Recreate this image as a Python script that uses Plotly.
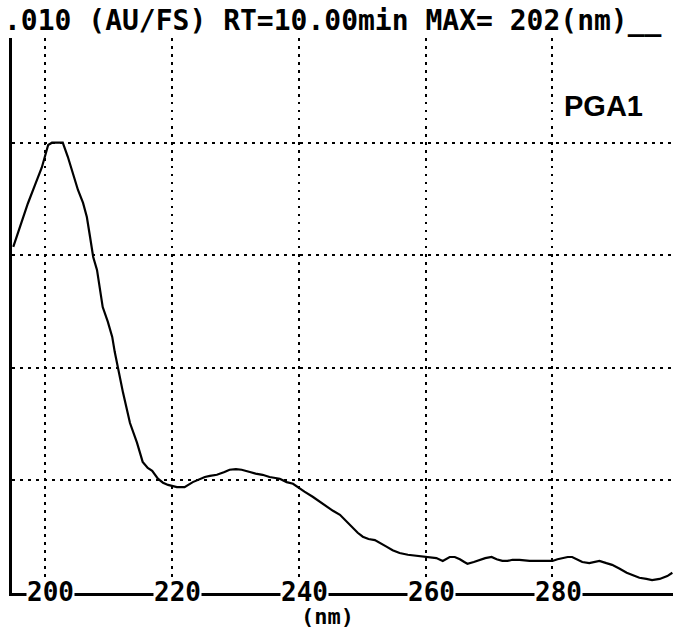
import plotly.graph_objects as go

# Wavelength (nm) and absorbance (AU)
wavelength = [195.0, 196.1, 197.3, 198.4, 199.5, 200.2, 200.5, 201.1, 202.0, 202.8,
              203.6, 204.4, 205.2, 206.0, 206.6, 207.1, 207.6, 208.2, 208.7, 209.1,
              209.9, 210.6, 211.0, 211.5, 212.3, 213.4, 214.5, 215.4, 216.2, 216.9,
              217.8, 218.6, 219.4, 220.8, 222.0, 223.3, 224.4, 225.2, 226.0, 227.1,
              228.3, 229.1, 230.1, 231.0, 232.3, 233.2, 234.3, 235.4, 237.0, 238.1,
              239.1, 239.8, 240.9, 242.2, 243.3, 244.4, 245.4, 246.5, 247.6, 248.5,
              249.3, 250.1, 251.0, 252.0, 252.9, 253.9, 254.8, 255.9, 257.2, 258.6,
              259.7, 260.6, 261.7, 262.7, 263.8, 264.6, 265.4, 266.1, 266.6, 267.6,
              268.5, 269.4, 270.4, 271.2, 272.1, 272.9, 273.7, 274.8, 276.4, 277.5,
              278.7, 280.0, 280.8, 281.6, 282.4, 283.1, 283.9, 284.7, 285.8, 286.6,
              287.4, 288.5, 289.4, 290.6, 291.7, 292.6, 293.7, 294.8, 295.7, 296.9,
              297.3, 298.1, 298.9]
absorbance = [0.00615, 0.00652, 0.00692, 0.00724, 0.00756, 0.00784, 0.00796, 0.00800, 0.00800, 0.00800,
              0.00775, 0.00747, 0.00716, 0.00693, 0.00668, 0.00633, 0.00597, 0.00574, 0.00539, 0.00508,
              0.00482, 0.00455, 0.00428, 0.00400, 0.00356, 0.00302, 0.00267, 0.00233, 0.00222, 0.00217,
              0.00203, 0.00196, 0.00192, 0.00188, 0.00188, 0.00197, 0.00203, 0.00206, 0.00208, 0.00210,
              0.00215, 0.00219, 0.00220, 0.00219, 0.00215, 0.00212, 0.00210, 0.00206, 0.00203, 0.00197,
              0.00194, 0.00188, 0.00180, 0.00171, 0.00162, 0.00153, 0.00146, 0.00139, 0.00126, 0.00116,
              0.00107, 0.00100, 0.00096, 0.00094, 0.00089, 0.00082, 0.00076, 0.00071, 0.00068, 0.00066,
              0.00064, 0.00064, 0.00062, 0.00057, 0.00064, 0.00064, 0.00060, 0.00055, 0.00052, 0.00055,
              0.00059, 0.00062, 0.00064, 0.00060, 0.00057, 0.00057, 0.00059, 0.00059, 0.00057, 0.00057,
              0.00057, 0.00057, 0.00060, 0.00062, 0.00064, 0.00064, 0.00060, 0.00055, 0.00053, 0.00055,
              0.00057, 0.00053, 0.00050, 0.00043, 0.00036, 0.00032, 0.00027, 0.00025, 0.00023, 0.00025,
              0.00027, 0.00030, 0.00036]

x_ticks = [200, 220, 240, 260, 280]
x_tick_labels = ["200", "220", "240", "260", "280"]
y_grid = [0.002, 0.004, 0.006, 0.008]

title_text = ".010 (AU/FS) RT=10.00min MAX= 202(nm)__"
x_title = "(nm)"
sample_label = "PGA1"

mono = "DejaVu Sans Mono"

fig = go.Figure()
fig.add_trace(go.Scatter(x=wavelength, y=absorbance, mode="lines",
                         line=dict(color="black", width=2.2), showlegend=False,
                         hoverinfo="skip"))

fig.update_layout(
    width=673, height=629,
    margin=dict(l=12, r=0, t=38, b=36),
    paper_bgcolor="white", plot_bgcolor="white",
    xaxis=dict(range=[194.8, 299.0], tickvals=x_ticks, showticklabels=False, ticks="",
               showgrid=True, gridcolor="black", gridwidth=2.4, griddash="2.5px,5.5px",
               zeroline=False, showline=True, linecolor="black", linewidth=3),
    yaxis=dict(range=[0, 0.00986], tickvals=y_grid, showticklabels=False, ticks="",
               showgrid=True, gridcolor="black", gridwidth=2.4, griddash="2.5px,5.5px",
               zeroline=False, showline=True, linecolor="black", linewidth=3),
)

for v, lab in zip(x_ticks, x_tick_labels):
    fig.add_annotation(x=v, y=0, xref="x", yref="y", text="<b>" + lab + "</b>",
                       showarrow=False, xshift=6, yshift=1, bgcolor="white", borderpad=0,
                       height=24, valign="middle",
                       font=dict(family=mono, size=26, color="black"))

fig.add_annotation(x=0, y=1, xref="paper", yref="paper", text="<b>" + title_text + "</b>",
                   showarrow=False, xanchor="left", yanchor="middle", xshift=-10, yshift=18,
                   font=dict(family=mono, size=28, color="black"))

fig.add_annotation(x=0.477, y=0, xref="paper", yref="paper", text="<b>" + x_title + "</b>",
                   showarrow=False, xanchor="center", yanchor="middle", yshift=-23,
                   height=22, valign="middle", borderpad=0,
                   font=dict(family=mono, size=22, color="black"))

fig.add_annotation(x=0.895, y=0.878, xref="paper", yref="paper", text="<b>" + sample_label + "</b>",
                   showarrow=False, xanchor="center", yanchor="middle",
                   font=dict(family="Liberation Sans", size=29, color="black"))

fig.write_html("out.html")
